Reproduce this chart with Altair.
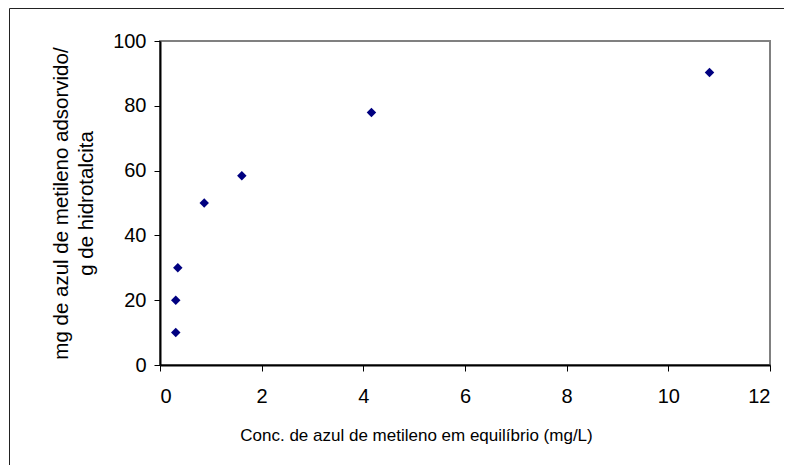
import altair as alt
import pandas as pd

# Data
conc = [0.31, 0.31, 0.35, 0.87, 1.61, 4.16, 10.81]
ads = [10, 20, 30, 50, 58.4, 77.9, 90.3]

x_ticks = [0, 2, 4, 6, 8, 10, 12]
y_ticks = [0, 20, 40, 60, 80, 100]

x_title = "Conc. de azul de metileno em equilíbrio (mg/L)"
y_title = ["mg de azul de metileno adsorvido/", "g de hidrotalcita"]

df = pd.DataFrame({"conc": conc, "ads": ads})

W, H = 610, 324
PAD_L, PAD_T = 152, 33
FONT = "Liberation Sans"

frame = alt.Chart(pd.DataFrame({"k": [0]})).mark_rect(
    fill="transparent", stroke="#222222", strokeWidth=1
).encode(
    x=alt.value(-PAD_L + 1.5),
    x2=alt.value(W + 300),
    y=alt.value(-PAD_T + 0.5),
    y2=alt.value(H + 300),
)

points = alt.Chart(df).mark_point(
    shape="diamond", filled=True, size=90, color="#000080", opacity=1
).encode(
    x=alt.X(
        "conc:Q",
        scale=alt.Scale(domain=[0, 12], nice=False),
        axis=alt.Axis(values=x_ticks, title=x_title, titlePadding=21, labelPadding=15,
                      titleFontSize=17, titleX=256, titleAlign="center"),
    ),
    y=alt.Y(
        "ads:Q",
        scale=alt.Scale(domain=[0, 100], nice=False),
        axis=alt.Axis(values=y_ticks, title=y_title, titlePadding=16, labelPadding=8,
                      titleFontSize=20.5, titleLineHeight=25),
    ),
)

chart = alt.layer(frame, points).properties(
    width=W,
    height=H,
    autosize=alt.AutoSizeParams(type="none"),
    padding={"left": PAD_L, "top": PAD_T, "right": 14, "bottom": 100},
).configure_view(
    stroke="#808080", strokeWidth=2
).configure_axis(
    grid=False,
    domainColor="#000000",
    domainWidth=2,
    tickColor="#000000",
    tickWidth=1,
    tickSize=6,
    labelFont=FONT,
    labelFontSize=20,
    labelColor="#000000",
    titleFont=FONT,
    titleFontWeight="normal",
    titleColor="#000000",
)

chart.save("out.html", embed_options={"renderer": "svg", "actions": False})
